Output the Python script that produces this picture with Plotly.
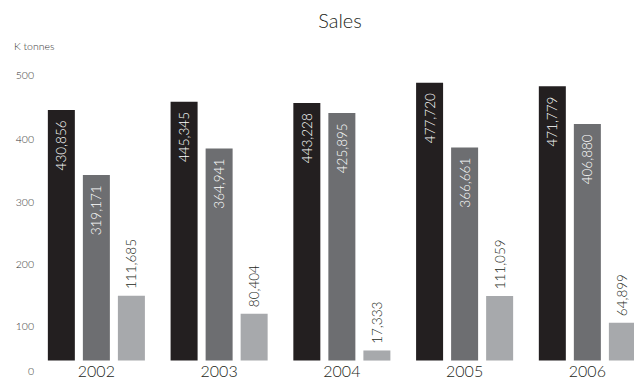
import plotly.graph_objects as go

years = ["2002", "2003", "2004", "2005", "2006"]
series_a = [430.856, 445.345, 443.228, 477.720, 471.779]
series_b = [319.171, 364.941, 425.895, 366.661, 406.880]
series_c = [111.685, 80.404, 17.333, 111.059, 64.899]
series_names = ["Series A", "Series B", "Series C"]
tick_labels = ["0", "100", "200", "300", "400", "500"]

# tick label placement (axis units) reproducing the reference layout
tick_pos = [-18, 59.5, 166, 273, 381, 491]

colors = ["#231f20", "#6d6e71", "#a7a9ac"]
FONT = "Lato, 'Open Sans', sans-serif"
W = 300
NB = "\u00a0"


def fmt(v):
    return f"{v * 1000:,.0f}"


fig = go.Figure()
for name, vals, col, pos in zip(series_names, [series_a, series_b, series_c], colors,
                                ["inside", "inside", "outside"]):
    if pos == "inside":
        texts = [fmt(v) + NB + NB for v in vals]
        tfont = dict(color="#ffffff", size=13.5, family=FONT, weight=W)
    else:
        texts = [NB + fmt(v) for v in vals]
        tfont = dict(color="#231f20", size=13.5, family=FONT, weight=W)
    fig.add_trace(go.Bar(
        x=years, y=vals, name=name, marker=dict(color=col, line=dict(width=0)),
        text=texts, textposition=pos, textangle=-90, insidetextanchor="end",
        insidetextfont=tfont, outsidetextfont=tfont, cliponaxis=False,
        constraintext="none", hoverinfo="x+y",
    ))

plot_h = 381 - 67 - 3
y_range = [-30, 505]

fig.update_layout(
    width=644, height=381,
    margin=dict(l=35, r=10, t=67, b=3, autoexpand=False),
    barmode="group", bargap=0.144, bargroupgap=0.229,
    paper_bgcolor="white", plot_bgcolor="white",
    showlegend=False,
    font=dict(family=FONT, color="#231f20", weight=W),
    title=dict(text="Sales", x=340 / 644, xanchor="center", xref="container",
               y=1 - 21 / 381, yanchor="middle", yref="container",
               font=dict(size=20, color="#231f20", family=FONT, weight=W)),
    xaxis=dict(type="category", range=[-0.5, 4.38], showgrid=False, showline=False,
               zeroline=False, ticks="", anchor="free", automargin=False,
               position=(0 - y_range[0]) / (y_range[1] - y_range[0]),
               ticklabelstandoff=-1,
               tickfont=dict(size=16, color="#231f20", family=FONT, weight=W)),
    yaxis=dict(range=y_range, showgrid=False, showline=False, zeroline=False,
               automargin=False,
               ticks="", tickmode="array", tickvals=tick_pos, ticktext=tick_labels,
               tickfont=dict(size=10.5, color="#333333", family=FONT, weight=W)),
    annotations=[dict(text="K tonnes", xref="paper", yref="paper",
                      x=(12 - 35) / 599, y=(378 - 46) / plot_h,
                      xanchor="left", yanchor="middle", showarrow=False,
                      font=dict(size=10.5, color="#333333", family=FONT, weight=W))],
)

fig.write_html("out.html")
